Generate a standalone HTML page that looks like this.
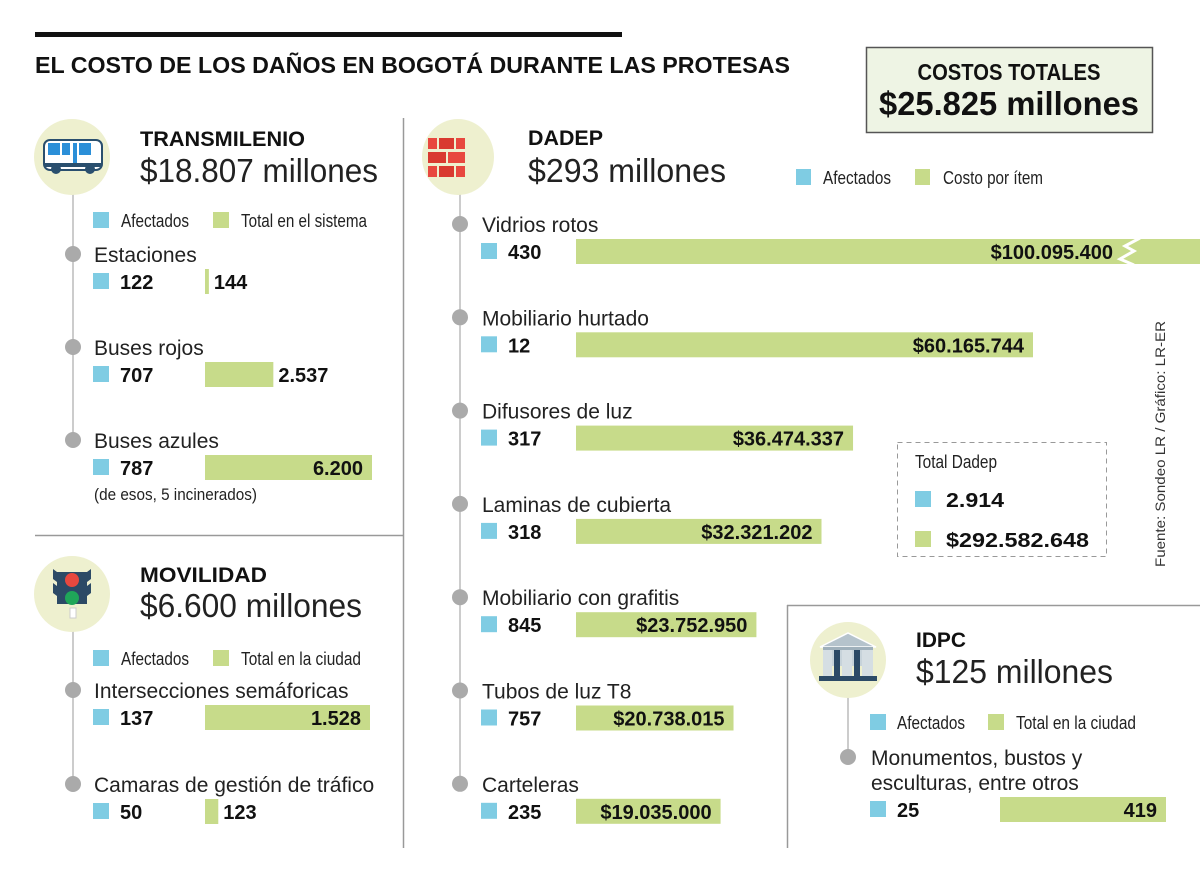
<!DOCTYPE html>
<html><head><meta charset="utf-8"><style>
html,body{margin:0;padding:0;background:#fff}
svg{display:block;font-family:"Liberation Sans Narrow","Liberation Sans",sans-serif}
.lbl{font-size:21px;fill:#222}
.val{font-size:20px;font-weight:bold;fill:#111}
.leg{font-size:18px;fill:#222}
</style></head><body>
<svg id="chart" width="1200" height="879" viewBox="0 0 1200 879">
<rect x="35" y="32" width="587" height="5" fill="#111"/>
<text x="35" y="73" font-size="23" font-weight="bold" fill="#111" textLength="755" lengthAdjust="spacingAndGlyphs">EL COSTO DE LOS DAÑOS EN BOGOTÁ DURANTE LAS PROTESAS</text>
<g>
<rect x="866.5" y="47.5" width="286" height="85" fill="#eef4e4" stroke="#555" stroke-width="1.5"/>
<text x="1009" y="80" text-anchor="middle" font-size="23" font-weight="bold" fill="#111" textLength="183" lengthAdjust="spacingAndGlyphs">COSTOS TOTALES</text>
<text x="1009" y="115" text-anchor="middle" font-size="33" font-weight="bold" fill="#111" textLength="260" lengthAdjust="spacingAndGlyphs">$25.825 millones</text>
</g>
<line x1="403.5" y1="118" x2="403.5" y2="848" stroke="#999" stroke-width="1.5"/>
<line x1="35" y1="535.5" x2="403" y2="535.5" stroke="#999" stroke-width="1.5"/>
<line x1="787" y1="605.5" x2="1200" y2="605.5" stroke="#999" stroke-width="1.5"/>
<line x1="787.5" y1="605" x2="787.5" y2="848" stroke="#999" stroke-width="1.5"/>

<!-- Transmilenio header -->
<line x1="73" y1="190" x2="73" y2="440" stroke="#ccc" stroke-width="2"/>
<circle cx="72" cy="157" r="38" fill="#eef0cf"/>
<g>
<rect x="44" y="140" width="58" height="30" rx="6" fill="#fff" stroke="#2a4f6e" stroke-width="2"/>
<rect x="48" y="143" width="12" height="12" fill="#2b8fd8"/><rect x="62" y="143" width="8" height="12" fill="#2b8fd8"/><rect x="73" y="143" width="4" height="22" fill="#2b8fd8"/><rect x="79" y="143" width="12" height="12" fill="#2b8fd8"/>
<rect x="44" y="163" width="58" height="4" fill="#2a4f6e"/>
<circle cx="56" cy="169" r="5" fill="#2a4f6e"/><circle cx="90" cy="169" r="5" fill="#2a4f6e"/>
</g>
<text x="140" y="146" font-size="21" font-weight="bold" fill="#111" textLength="165" lengthAdjust="spacingAndGlyphs">TRANSMILENIO</text>
<text x="140" y="182" font-size="33" fill="#222" textLength="238" lengthAdjust="spacingAndGlyphs">$18.807 millones</text>
<g>
<rect x="93" y="212" width="16" height="16" fill="#7fcce3"/><text class="leg" x="121" y="227" textLength="68" lengthAdjust="spacingAndGlyphs">Afectados</text>
<rect x="213" y="212" width="16" height="16" fill="#c7db8a"/><text class="leg" x="241" y="227" textLength="126" lengthAdjust="spacingAndGlyphs">Total en el sistema</text>
</g>
<text x="94" y="500" font-size="17" fill="#222" textLength="163" lengthAdjust="spacingAndGlyphs">(de esos, 5 incinerados)</text>

<!-- Movilidad header -->
<line x1="73" y1="630" x2="73" y2="784" stroke="#ccc" stroke-width="2"/>
<circle cx="72" cy="594" r="38" fill="#eef0cf"/>
<g>
<rect x="70" y="608" width="6" height="10" fill="#fff" stroke="#ccc"/>
<path d="M57 572 h30 l4 -3 v10 l-4 3 v4 l4 -3 v10 l-4 3 v8 h-30 v-8 l-4 -3 v-10 l4 3 v-4 l-4 -3 v-10 z" fill="#2c4a66"/>
<circle cx="72" cy="580" r="7" fill="#e8483f"/><circle cx="72" cy="598" r="7" fill="#1fa659"/>
</g>
<text x="140" y="582" font-size="21" font-weight="bold" fill="#111" textLength="127" lengthAdjust="spacingAndGlyphs">MOVILIDAD</text>
<text x="140" y="617" font-size="33" fill="#222" textLength="222" lengthAdjust="spacingAndGlyphs">$6.600 millones</text>
<g>
<rect x="93" y="650" width="16" height="16" fill="#7fcce3"/><text class="leg" x="121" y="665" textLength="68" lengthAdjust="spacingAndGlyphs">Afectados</text>
<rect x="213" y="650" width="16" height="16" fill="#c7db8a"/><text class="leg" x="241" y="665" textLength="120" lengthAdjust="spacingAndGlyphs">Total en la ciudad</text>
</g>

<!-- DADEP header -->
<line x1="460" y1="190" x2="460" y2="784" stroke="#ccc" stroke-width="2"/>
<ellipse cx="458" cy="157" rx="36" ry="38" fill="#eef0cf"/>
<g fill="#e8483f">
<rect x="428" y="138" width="9" height="11"/><rect x="439" y="138" width="15" height="11" fill="#d93a30"/><rect x="456" y="138" width="9" height="11"/>
<rect x="428" y="152" width="18" height="11" fill="#d93a30"/><rect x="448" y="152" width="17" height="11"/>
<rect x="428" y="166" width="9" height="11"/><rect x="439" y="166" width="15" height="11" fill="#d93a30"/><rect x="456" y="166" width="9" height="11"/>
</g>
<text x="528" y="145" font-size="21" font-weight="bold" fill="#111" textLength="75" lengthAdjust="spacingAndGlyphs">DADEP</text>
<text x="528" y="182" font-size="33" fill="#222" textLength="198" lengthAdjust="spacingAndGlyphs">$293 millones</text>
<g>
<rect x="796" y="169" width="15" height="16" fill="#7fcce3"/><text class="leg" x="823" y="184" textLength="68" lengthAdjust="spacingAndGlyphs">Afectados</text>
<rect x="915" y="169" width="15" height="16" fill="#c7db8a"/><text class="leg" x="943" y="184" textLength="100" lengthAdjust="spacingAndGlyphs">Costo por ítem</text>
</g>
<g>
<rect x="897.5" y="442.5" width="209" height="114" fill="none" stroke="#999" stroke-dasharray="5,4"/>
<text class="leg" x="915" y="468" textLength="82" lengthAdjust="spacingAndGlyphs">Total Dadep</text>
<rect x="915" y="491" width="16" height="16" fill="#7fcce3"/><text class="val" x="946" y="507" textLength="58" lengthAdjust="spacingAndGlyphs">2.914</text>
<rect x="915" y="531" width="16" height="16" fill="#c7db8a"/><text class="val" x="946" y="547" textLength="143" lengthAdjust="spacingAndGlyphs">$292.582.648</text>
</g>
<text transform="translate(1165,567) rotate(-90)" font-size="14" fill="#333" textLength="246" lengthAdjust="spacingAndGlyphs">Fuente: Sondeo LR /  Gráfico: LR-ER</text>

<!-- IDPC header -->
<line x1="848" y1="690" x2="848" y2="757" stroke="#ccc" stroke-width="2"/>
<circle cx="848" cy="660" r="38" fill="#eef0cf"/>
<g>
<path d="M820 647 L848 633 L876 647 Z" fill="#b5c3cc" stroke="#fff" stroke-width="1.5"/>
<rect x="823" y="648" width="50" height="18" fill="#c7d3da"/>
<rect x="823" y="647" width="50" height="3" fill="#9fb0bb"/>
<rect x="834" y="650" width="6" height="26" fill="#2c4a66"/><rect x="854" y="650" width="6" height="26" fill="#2c4a66"/>
<rect x="823" y="650" width="9" height="26" fill="#d5dee3"/><rect x="842" y="650" width="10" height="26" fill="#d5dee3"/><rect x="862" y="650" width="11" height="26" fill="#d5dee3"/>
<rect x="819" y="676" width="58" height="5" fill="#2c4a66"/>
</g>
<text x="916" y="647" font-size="21" font-weight="bold" fill="#111" textLength="50" lengthAdjust="spacingAndGlyphs">IDPC</text>
<text x="916" y="683" font-size="33" fill="#222" textLength="197" lengthAdjust="spacingAndGlyphs">$125 millones</text>
<g>
<rect x="870" y="714" width="16" height="16" fill="#7fcce3"/><text class="leg" x="897" y="729" textLength="68" lengthAdjust="spacingAndGlyphs">Afectados</text>
<rect x="988" y="714" width="16" height="16" fill="#c7db8a"/><text class="leg" x="1016" y="729" textLength="120" lengthAdjust="spacingAndGlyphs">Total en la ciudad</text>
</g>
<g id="rows"></g>
</svg>
<script>
// Transmilenio
const tmCategories = ["Estaciones", "Buses rojos", "Buses azules"];
const tmAffected = [122, 707, 787];
const tmTotals = [144, 2537, 6200];
// Movilidad
const movCategories = ["Intersecciones semáforicas", "Camaras de gestión de tráfico"];
const movAffected = [137, 50];
const movTotals = [1528, 123];
// DADEP
const dadepCategories = ["Vidrios rotos", "Mobiliario hurtado", "Difusores de luz", "Laminas de cubierta", "Mobiliario con grafitis", "Tubos de luz T8", "Carteleras"];
const dadepAffected = [430, 12, 317, 318, 845, 757, 235];
const dadepCosts = [100095400, 60165744, 36474337, 32321202, 23752950, 20738015, 19035000];
// IDPC
const idpcCategories = ["Monumentos, bustos y|esculturas, entre otros"];
const idpcAffected = [25];
const idpcTotals = [419];

const NS = "http://www.w3.org/2000/svg";
const root = document.getElementById("rows");
function mk(tag, attrs, parent, text) {
  const e = document.createElementNS(NS, tag);
  for (const k in attrs) e.setAttribute(k, attrs[k]);
  if (text !== undefined) e.textContent = text;
  parent.appendChild(e);
  return e;
}
function fmt(v, money) {
  const s = String(v).replace(/\B(?=(\d{3})+(?!\d))/g, ".");
  return money ? "$" + s : s;
}
function panel(p) {
  p.cats.forEach((c, i) => {
    const dotY = p.y0 + i * p.step;
    const g = mk("g", {}, root);
    
    
    mk("circle", {cx: p.lineX, cy: dotY, r: 8, fill: "#aaa"}, g);
    const lines = c.split('|');
    lines.forEach((l, j) => mk("text", {class: "lbl", x: p.labX, y: dotY + 8 + j * 25}, g, l));
    const rowY = dotY + 8 + (lines.length - 1) * 25 + 27;
    const sq = mk("rect", {x: p.labX - 1, y: rowY - 16, width: 16, height: 16, fill: "#7fcce3"}, g);
    
    
    mk("text", {class: "val", x: p.labX + 26, y: rowY}, g, fmt(p.aff[i]));
    const full = p.xScale(p.vals[i]);
    const w = Math.min(full, 1200 - p.barX);
    const bar = mk("rect", {x: p.barX, y: rowY - 20, width: w, height: 25, fill: "#c7db8a"}, g);
    
    
    let end = p.barX + w;
    if (full > w) {
      // break marker
      mk("polyline", {points: (end - 60) + "," + (rowY - 21) + " " + (end - 75) + "," + (rowY - 13) + " " + (end - 66) + "," + (rowY - 8) + " " + (end - 80) + "," + (rowY + 0) + " " + (end - 66) + "," + (rowY + 6), fill: "none", stroke: "#fff", "stroke-width": 3}, g);
      end = end - 78;
    }
    const txt = fmt(p.vals[i], p.money);
    if (w > 100) mk("text", {class: "val", x: end - 9, y: rowY, "text-anchor": "end"}, g, txt);
    else mk("text", {class: "val", x: p.barX + w + 5, y: rowY}, g, txt);
  });
}
panel({cats: tmCategories, aff: tmAffected, vals: tmTotals, y0: 254, step: 93, lineX: 73, labX: 94, barX: 205, xScale: v => v * 167 / 6200});
panel({cats: movCategories, aff: movAffected, vals: movTotals, y0: 690, step: 94, lineX: 73, labX: 94, barX: 205, xScale: v => v * 165 / 1528});
panel({cats: dadepCategories, aff: dadepAffected, vals: dadepCosts, y0: 224, step: 93.3, lineX: 460, labX: 482, barX: 576, money: true, xScale: v => v * 457 / 60165744});
panel({cats: idpcCategories, aff: idpcAffected, vals: idpcTotals, y0: 757, step: 0, lineX: 848, labX: 871, barX: 1000, xScale: v => v * 166 / 419});
</script>
</body></html>
